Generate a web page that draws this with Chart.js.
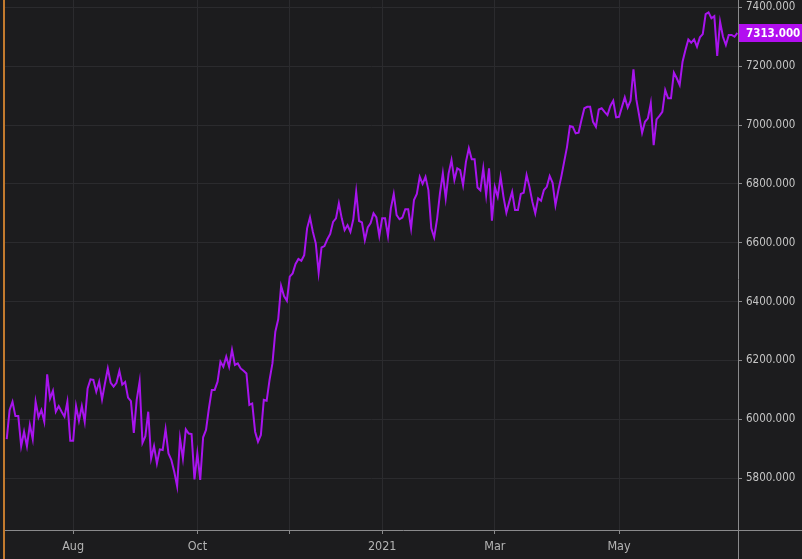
<!DOCTYPE html>
<html>
<head>
<meta charset="utf-8">
<script src="https://cdn.jsdelivr.net/npm/chart.js@4.4.0/dist/chart.umd.min.js"></script>
<style>
  html, body { margin: 0; padding: 0; background: #1c1c1e; overflow: hidden; }
  #wrap { position: relative; width: 802px; height: 559px; }
  #edge { position: absolute; left: 3px; top: 0; width: 2px; height: 559px; background: #c27a2e; }
</style>
</head>
<body>
<div id="wrap">
  <canvas id="chart" width="802" height="559"></canvas>
  <div id="edge"></div>
</div>
<script>
// daily closes (one value per trading day)
const closes = [
  5933, 6032, 6060, 6011, 6011, 5909, 5958, 5909, 5981, 5933,
  6060, 6007, 6032, 5992, 6153, 6071, 6097, 6026, 6045, 6026,
  6009, 6060, 5927, 5927, 6045, 5995, 6045, 5992, 6105, 6136,
  6134, 6094, 6128, 6068, 6122, 6173, 6124, 6111, 6124, 6164,
  6118, 6127, 6074, 6062, 5954, 6066, 6128, 5920, 5943, 6026,
  5867, 5909, 5850, 5898, 5896, 5966, 5884, 5862, 5822, 5773,
  5935, 5867, 5966, 5952, 5950, 5796, 5884, 5794, 5939, 5964,
  6037, 6100, 6100, 6128, 6196, 6179, 6213, 6179, 6236, 6185,
  6190, 6173, 6165, 6156, 6049, 6054, 5958, 5924, 5947, 6066,
  6063, 6134, 6190, 6298, 6340, 6453, 6419, 6403, 6485, 6496,
  6528, 6545, 6539, 6558, 6649, 6686, 6637, 6598, 6498, 6584,
  6589, 6612, 6630, 6671, 6683, 6734, 6683, 6643, 6660, 6637,
  6680, 6773, 6674, 6669, 6609, 6652, 6667, 6700, 6686, 6623,
  6683, 6683, 6623, 6717, 6766, 6694, 6680, 6686, 6714, 6714,
  6649, 6745, 6766, 6824, 6800, 6824, 6779, 6649, 6618, 6680,
  6768, 6836, 6751, 6836, 6881, 6813, 6853, 6847, 6796, 6875,
  6921, 6884, 6884, 6788, 6778, 6853, 6762, 6853, 6675, 6790,
  6756, 6824, 6756, 6702, 6739, 6773, 6711, 6711, 6766, 6770,
  6830, 6790, 6739, 6700, 6751, 6743, 6779, 6790, 6827, 6804,
  6728, 6779, 6824, 6875, 6926, 6997, 6994, 6972, 6974, 7017,
  7057, 7062, 7062, 7011, 6994, 7053, 7057, 7045, 7034, 7065,
  7083, 7026, 7028, 7061, 7094, 7060, 7083, 7189, 7087, 7031,
  6974, 7011, 7023, 7074, 6932, 7019, 7031, 7045, 7119, 7091,
  7091, 7178, 7159, 7136, 7215, 7255, 7291, 7280, 7291, 7266,
  7298, 7309, 7377, 7383, 7363, 7370, 7235, 7351, 7300, 7272,
  7306, 7306, 7300, 7313
];

// month gridlines (index into closes) and their labels
const tickIndex = [23, 66, 98, 130, 169, 212];
const tickLabels = ['Aug', 'Oct', '', '2021', 'Mar', 'May'];
const priceTicks = [5800, 6000, 6200, 6400, 6600, 6800, 7000, 7200, 7400];

const lineColor = '#a814ee';
const axisColor = '#8a8a8c';

// axis lines run past the plot, plus the last-price tag on the right
const frame = {
  id: 'frame',
  afterDraw(chart) {
    const { ctx, chartArea, scales } = chart;
    ctx.save();
    ctx.strokeStyle = axisColor;
    ctx.lineWidth = 1;
    ctx.beginPath();
    ctx.moveTo(chartArea.left, chartArea.bottom + 0.5);
    ctx.lineTo(chart.width, chartArea.bottom + 0.5);
    ctx.moveTo(chartArea.right + 0.5, 0);
    ctx.lineTo(chartArea.right + 0.5, chart.height);
    ctx.stroke();

    const last = closes[closes.length - 1];
    const y = Math.round(scales.y.getPixelForValue(last));
    ctx.fillStyle = '#b20ef0';
    ctx.fillRect(chartArea.right + 1, y - 9, chart.width - chartArea.right, 18);
    ctx.fillStyle = '#ffffff';
    ctx.font = 'bold 11.5px "DejaVu Sans Condensed", sans-serif';
    ctx.textBaseline = 'middle';
    ctx.fillText(last.toFixed(3), chartArea.right + 8, y + 1);
    ctx.restore();
  }
};

const noPad = axis => {
  axis.paddingTop = 0;
  axis.paddingBottom = 0;
  axis.paddingLeft = 0;
  axis.paddingRight = 0;
};

new Chart(document.getElementById('chart'), {
  type: 'line',
  data: {
    datasets: [{
      data: closes.map((v, i) => ({ x: i, y: v })),
      borderColor: lineColor,
      borderWidth: 2,
      pointRadius: 0,
      tension: 0,
      fill: false
    }]
  },
  options: {
    responsive: false,
    animation: false,
    devicePixelRatio: 1,
    layout: { padding: { left: 5, top: 0, right: 0, bottom: 0 } },
    plugins: { legend: { display: false }, tooltip: { enabled: false } },
    scales: {
      x: {
        type: 'linear',
        min: -0.6,
        max: 253.2,
        afterBuildTicks: axis => { axis.ticks = tickIndex.map(v => ({ value: v })); },
        afterFit: axis => { axis.height = 29; noPad(axis); },
        grid: { color: '#2b2b2e', tickColor: axisColor, tickLength: 4 },
        border: { display: false },
        ticks: {
          autoSkip: false,
          maxRotation: 0,
          padding: 5,
          color: '#b4b4b4',
          font: { family: '"DejaVu Sans Condensed", sans-serif', size: 12.5 },
          callback: v => tickLabels[tickIndex.indexOf(v)]
        }
      },
      y: {
        position: 'right',
        min: 5624,
        max: 7425,
        afterBuildTicks: axis => { axis.ticks = priceTicks.map(v => ({ value: v })); },
        afterFit: axis => { axis.width = 64; noPad(axis); },
        grid: { color: '#2b2b2e', tickColor: axisColor, tickLength: 4 },
        border: { display: false },
        ticks: {
          padding: 4,
          color: '#c4c4c4',
          font: { family: '"DejaVu Sans Condensed", sans-serif', size: 11.5 },
          callback: v => Number(v).toFixed(3)
        }
      }
    }
  },
  plugins: [frame]
});
</script>
</body>
</html>
